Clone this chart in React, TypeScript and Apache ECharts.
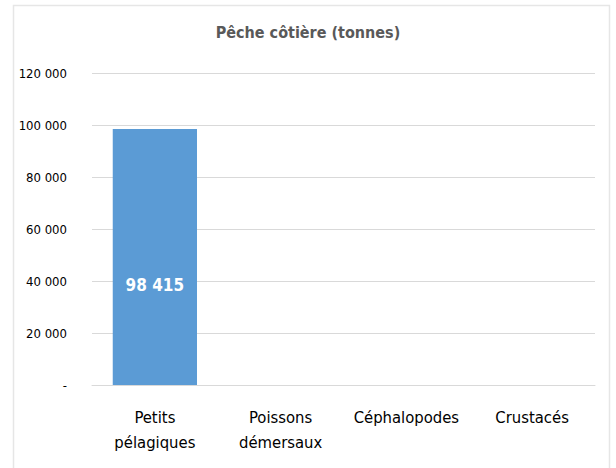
import React, { useEffect, useRef } from "react";
import * as echarts from "echarts";

const categories = ["Petits\npélagiques", "Poissons\ndémersaux", "Céphalopodes", "Crustacés"];
const values = [98415, 0, 0, 0];
const yTicks = { min: 0, max: 120000, interval: 20000 };
const titleText = "Pêche côtière (tonnes)";

const FONT = "'DejaVu Sans Condensed', 'DejaVu Sans', sans-serif";

function fmt(v: number): string {
  if (v === 0) return "-";
  return String(Math.round(v)).replace(/\B(?=(\d{3})+(?!\d))/g, " ");
}

export default function App() {
  const ref = useRef<HTMLDivElement>(null);
  useEffect(() => {
    document.body.style.margin = "0";
    if (!ref.current) return;
    const chart = echarts.init(ref.current, null, { renderer: "svg" });
    chart.setOption({
      animation: false,
      backgroundColor: "#ffffff",
      title: {
        text: titleText,
        left: "center",
        top: 19,
        textStyle: { fontFamily: FONT, fontSize: 16, fontWeight: "bold", color: "#595959" },
      },
      graphic: [
        {
          type: "rect",
          shape: { x: 13.5, y: 5.5, width: 596, height: 470 },
          style: { fill: "none", stroke: "#e6e6e6", lineWidth: 1.5 },
          silent: true,
        },
      ],
      grid: { left: 92, right: 21, top: 73, bottom: 83, containLabel: false },
      xAxis: {
        type: "category",
        data: categories,
        axisLine: { show: true, lineStyle: { color: "#d9d9d9", width: 1 } },
        axisTick: { show: false },
        axisLabel: {
          fontFamily: FONT,
          fontSize: 16.5,
          color: "#000000",
          margin: 20,
          lineHeight: 25,
          interval: 0,
        },
      },
      yAxis: {
        type: "value",
        min: yTicks.min,
        max: yTicks.max,
        interval: yTicks.interval,
        axisLine: { show: false },
        axisTick: { show: false },
        splitLine: { lineStyle: { color: "#d9d9d9", width: 1 } },
        axisLabel: {
          fontFamily: FONT,
          fontSize: 13,
          color: "#000000",
          margin: 25,
          formatter: (v: number) => fmt(v),
        },
      },
      series: [
        {
          type: "bar",
          data: values,
          barWidth: "67%",
          itemStyle: { color: "#5b9bd5" },
          label: {
            show: true,
            position: "insideBottom",
            distance: 92,
            fontFamily: FONT,
            fontSize: 17,
            fontWeight: "bold",
            color: "#ffffff",
            formatter: (p: any) => (p.value > 0 ? fmt(p.value) : ""),
          },
        },
      ],
    });
    return () => chart.dispose();
  }, []);
  return <div ref={ref} style={{ width: 616, height: 468 }} />;
}
